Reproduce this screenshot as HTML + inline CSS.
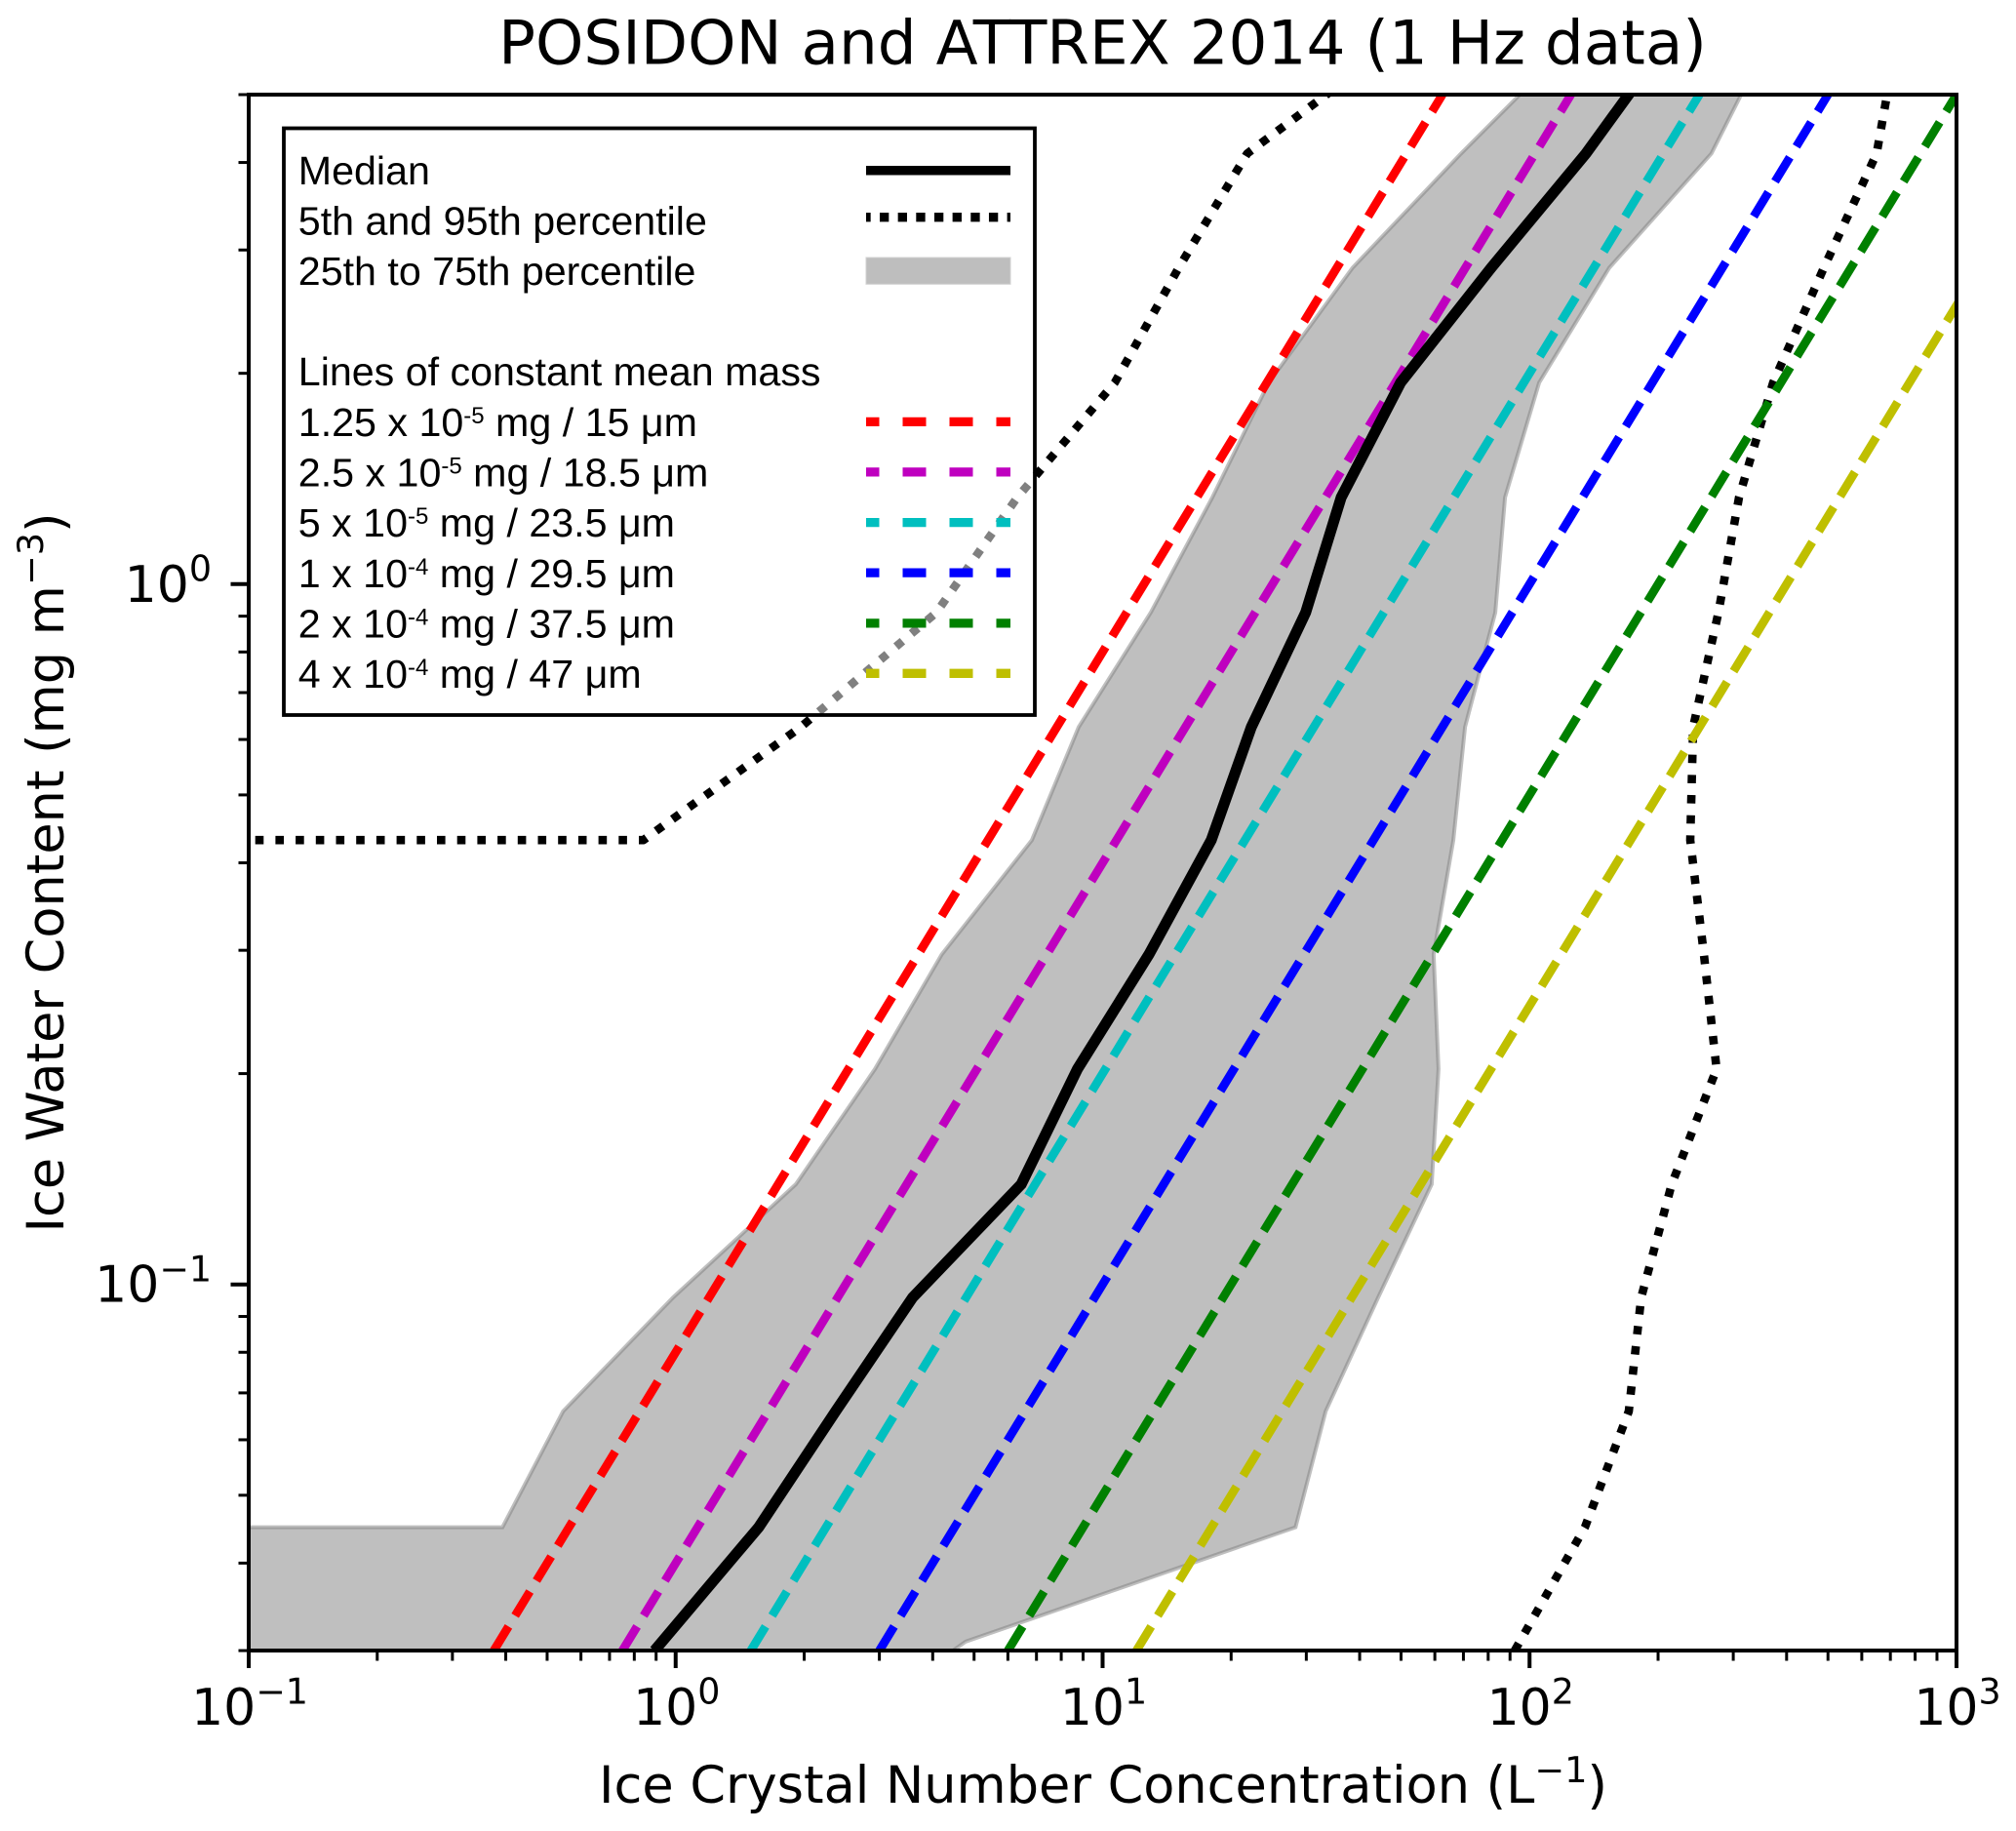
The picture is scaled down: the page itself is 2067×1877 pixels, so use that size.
<!DOCTYPE html>
<html lang="en">
<head>
<meta charset="utf-8">
<title>POSIDON and ATTREX 2014 (1 Hz data)</title>
<style>
html,body{margin:0;padding:0;background:#fff;}
svg{display:block;}
.dv{font-family:"DejaVu Sans",sans-serif;fill:#000;}
.lg{font-family:"Liberation Sans",Arial,sans-serif;font-size:41.2px;fill:#000;}
</style>
</head>
<body>
<svg id="chart" xmlns="http://www.w3.org/2000/svg" width="2067" height="1877" viewBox="0 0 2067 1877">
  <rect x="0" y="0" width="2067" height="1877" fill="#fff"/>
  <defs>
    <clipPath id="plot-clip"><rect x="255" y="97" width="1751" height="1595"/></clipPath>
  </defs>
  <g id="marks" clip-path="url(#plot-clip)"></g>
  <g id="ticks"></g>
  <rect x="255" y="97" width="1751" height="1595" fill="none" stroke="#000" stroke-width="4"/>

  <text class="dv" x="1130.5" y="65.5" font-size="62.8" text-anchor="middle">POSIDON and ATTREX 2014 (1 Hz data)</text>
  <text class="dv" x="1131" y="1848" font-size="52.5" text-anchor="middle">Ice Crystal Number Concentration (L<tspan font-size="36.7" dy="-21">−1</tspan><tspan dy="21">)</tspan></text>
  <text class="dv" transform="translate(65,894.5) rotate(-90)" x="0" y="0" font-size="52.5" text-anchor="middle">Ice Water Content (mg m<tspan font-size="36.7" dy="-21">−3</tspan><tspan dy="21">)</tspan></text>

  <g>
    <rect x="291" y="131.5" width="770" height="601.5" fill="#fff" fill-opacity="0.5" stroke="#000" stroke-width="3.8"/>
    <text class="lg" x="305.8" y="189">Median</text>
    <text class="lg" x="305.8" y="240.5">5th and 95th percentile</text>
    <text class="lg" x="305.8" y="292">25th to 75th percentile</text>
    <text class="lg" x="305.8" y="395">Lines of constant mean mass</text>
    <text class="lg" x="305.8" y="447">1.25 x 10<tspan font-size="24" dy="-13">-5</tspan><tspan dy="13"> mg / 15 μm</tspan></text>
    <text class="lg" x="305.8" y="498.5">2.5 x 10<tspan font-size="24" dy="-13">-5</tspan><tspan dy="13"> mg / 18.5 μm</tspan></text>
    <text class="lg" x="305.8" y="550">5 x 10<tspan font-size="24" dy="-13">-5</tspan><tspan dy="13"> mg / 23.5 μm</tspan></text>
    <text class="lg" x="305.8" y="602">1 x 10<tspan font-size="24" dy="-13">-4</tspan><tspan dy="13"> mg / 29.5 μm</tspan></text>
    <text class="lg" x="305.8" y="653.5">2 x 10<tspan font-size="24" dy="-13">-4</tspan><tspan dy="13"> mg / 37.5 μm</tspan></text>
    <text class="lg" x="305.8" y="705">4 x 10<tspan font-size="24" dy="-13">-4</tspan><tspan dy="13"> mg / 47 μm</tspan></text>
    <line x1="888" x2="1036" y1="174.7" y2="174.7" stroke="#000" stroke-width="9.5"/>
    <line x1="888" x2="1036" y1="222.7" y2="222.7" stroke="#000" stroke-width="9.3" stroke-dasharray="9.33 9.33" stroke-dashoffset="4.67"/>
    <rect x="888" y="264" width="148" height="27.3" fill="#bebebe" stroke="#d0d0d0" stroke-width="1"/>
    <line x1="888" x2="1036" y1="432.4" y2="432.4" stroke="#ff0000" stroke-width="9.3" stroke-dasharray="24 24" stroke-dashoffset="10.5"/>
    <line x1="888" x2="1036" y1="483.9" y2="483.9" stroke="#bf00bf" stroke-width="9.3" stroke-dasharray="24 24" stroke-dashoffset="10.5"/>
    <line x1="888" x2="1036" y1="535.6" y2="535.6" stroke="#00bfbf" stroke-width="9.3" stroke-dasharray="24 24" stroke-dashoffset="10.5"/>
    <line x1="888" x2="1036" y1="587.1" y2="587.1" stroke="#0000ff" stroke-width="9.3" stroke-dasharray="24 24" stroke-dashoffset="10.5"/>
    <line x1="888" x2="1036" y1="638.9" y2="638.9" stroke="#008000" stroke-width="9.3" stroke-dasharray="24 24" stroke-dashoffset="10.5"/>
    <line x1="888" x2="1036" y1="690.3" y2="690.3" stroke="#bfbf00" stroke-width="9.3" stroke-dasharray="24 24" stroke-dashoffset="10.5"/>
  </g>
</svg>
<script>
// IWC bin levels (mg m-3)
var iwcLevels = [0.03,0.045,0.0659,0.0958,0.139,0.203,0.296,0.431,0.625,0.911,1.33,1.94,2.83,4.12,6.0];
// Median N (L-1) per level
var medianN = [0.892,1.565,2.37,3.59,6.45,8.73,12.84,17.97,22.3,29.9,36.2,49.9,81.3,135.5,212];
// 5th percentile curve
var p5Iwc = [0.431,0.431,0.625,0.911,1.33,1.94,2.83,4.12,6.0];
var p5N = [0.1036,0.84,1.963,4.08,6.31,10.68,15.07,21.8,50];
// 95th percentile curve
var p95N = [92.3,134.8,170.8,182.6,215.3,274.2,256,237.9,241.6,277,309.5,372,489,650,725];
// 25th percentile edge (low N side)
var p25Iwc = [0.03,0.045,0.045,0.0659,0.0958,0.139,0.203,0.296,0.431,0.625,0.911,1.33,1.94,2.83,4.12,6.0];
var p25N = [0.1,0.1,0.393,0.545,0.986,1.912,2.93,4.20,6.83,8.79,12.97,18.07,24.5,38.5,69.1,127.9];
// 75th percentile edge (high N side), listed top to bottom
var p75Iwc = [6.0,4.12,2.83,1.94,1.33,0.911,0.625,0.431,0.296,0.203,0.139,0.0958,0.0659,0.045,0.0309,0.03];
var p75N = [364,266.6,153.7,105.3,87.6,83.1,70.6,66.3,59.6,61.2,59.0,44.2,33.3,28.3,4.78,4.46];
// Constant mean mass lines: N at IWC end points
var massIwc = [0.03,5];
var massRedN = [0.375,62.5];
var massMagentaN = [0.75,125];
var massCyanN = [1.5,250];
var massBlueN = [3,500];
var massGreenN = [6,1000];
var massYellowN = [12,2000];
// Ticks
var xMajorExp = [-1,0,1,2,3];
var xMinor = [0.2,0.3,0.4,0.5,0.6,0.7,0.8,0.9,2,3,4,5,6,7,8,9,20,30,40,50,60,70,80,90,200,300,400,500,600,700,800,900];
var yMajorExp = [-1,0];
var yMinor = [0.03,0.04,0.05,0.06,0.07,0.08,0.09,0.2,0.3,0.4,0.5,0.6,0.7,0.8,0.9,2,3,4,5];

var NS = 'http://www.w3.org/2000/svg';
function xPx(v){ return 255 + (Math.log10(v) + 1) * 437.75; }
function yPx(v){ return 97 + Math.log10(5 / v) * 717.9; }
function pointsOf(xs, ys){
  var out = [];
  for (var i = 0; i < xs.length; i++) out.push(xPx(xs[i]).toFixed(1) + ',' + yPx(ys[i]).toFixed(1));
  return out.join(' ');
}
function make(tag, attrs){
  var el = document.createElementNS(NS, tag);
  for (var k in attrs) el.setAttribute(k, attrs[k]);
  return el;
}
var marks = document.getElementById('marks');
var ticks = document.getElementById('ticks');

var band = make('polygon', {points: pointsOf(p25N, p25Iwc) + ' ' + pointsOf(p75N, p75Iwc), fill: '#808080', 'fill-opacity': 0.5, stroke: '#808080', 'stroke-opacity': 0.5, 'stroke-width': 4, 'stroke-linejoin': 'miter'});


marks.appendChild(band);

var DOT = {fill: 'none', stroke: '#000', 'stroke-width': 8.6, 'stroke-dasharray': '8.6 12.1', 'stroke-linejoin': 'round'};
var p5Line = make('polyline', Object.assign({points: pointsOf(p5N, p5Iwc)}, DOT));


marks.appendChild(p5Line);

var p95Line = make('polyline', Object.assign({points: pointsOf(p95N, iwcLevels)}, DOT));


marks.appendChild(p95Line);

function massLine(ns, color){
  return make('polyline', {points: pointsOf(ns, massIwc), fill: 'none', stroke: color, 'stroke-width': 8.8, 'stroke-dasharray': '29 13'});
}
var redLine = massLine(massRedN, '#ff0000');


marks.appendChild(redLine);
var magentaLine = massLine(massMagentaN, '#bf00bf');


marks.appendChild(magentaLine);
var cyanLine = massLine(massCyanN, '#00bfbf');


marks.appendChild(cyanLine);
var blueLine = massLine(massBlueN, '#0000ff');


marks.appendChild(blueLine);
var greenLine = massLine(massGreenN, '#008000');


marks.appendChild(greenLine);
var yellowLine = massLine(massYellowN, '#bfbf00');


marks.appendChild(yellowLine);

var medianLine = make('polyline', {points: pointsOf(medianN, iwcLevels), fill: 'none', stroke: '#000', 'stroke-width': 11.2, 'stroke-linejoin': 'miter'});


marks.appendChild(medianLine);

function tickLabel(exp, x, y, anchor){
  var t = make('text', {x: x, y: y, 'text-anchor': anchor, 'font-size': 52, 'class': 'dv'});
  var base = make('tspan', {});
  base.textContent = '10';
  var sup = make('tspan', {'font-size': 36.4, dy: -21.3});
  sup.textContent = String(exp).replace('-', '\u2212');
  t.appendChild(base);
  t.appendChild(sup);
  return t;
}

xMajorExp.forEach(function(e){
  var px = xPx(Math.pow(10, e));
  var tk = make('line', {x1: px, x2: px, y1: 1692, y2: 1710, stroke: '#000', 'stroke-width': 4});
  
  
  ticks.appendChild(tk);
  var lb = tickLabel(e, px + 1, 1768, 'middle');
  
  
  ticks.appendChild(lb);
});
xMinor.forEach(function(v){
  var px = xPx(v);
  var tk = make('line', {x1: px, x2: px, y1: 1692, y2: 1702.5, stroke: '#000', 'stroke-width': 3});
  
  
  ticks.appendChild(tk);
});
yMajorExp.forEach(function(e){
  var py = yPx(Math.pow(10, e));
  var tk = make('line', {x1: 236.5, x2: 255, y1: py, y2: py, stroke: '#000', 'stroke-width': 4});
  
  
  ticks.appendChild(tk);
  var lb = tickLabel(e, 217, py + 18, 'end');
  
  
  ticks.appendChild(lb);
});
yMinor.forEach(function(v){
  var py = yPx(v);
  var tk = make('line', {x1: 244.5, x2: 255, y1: py, y2: py, stroke: '#000', 'stroke-width': 3});
  
  
  ticks.appendChild(tk);
});
</script>
</body>
</html>
